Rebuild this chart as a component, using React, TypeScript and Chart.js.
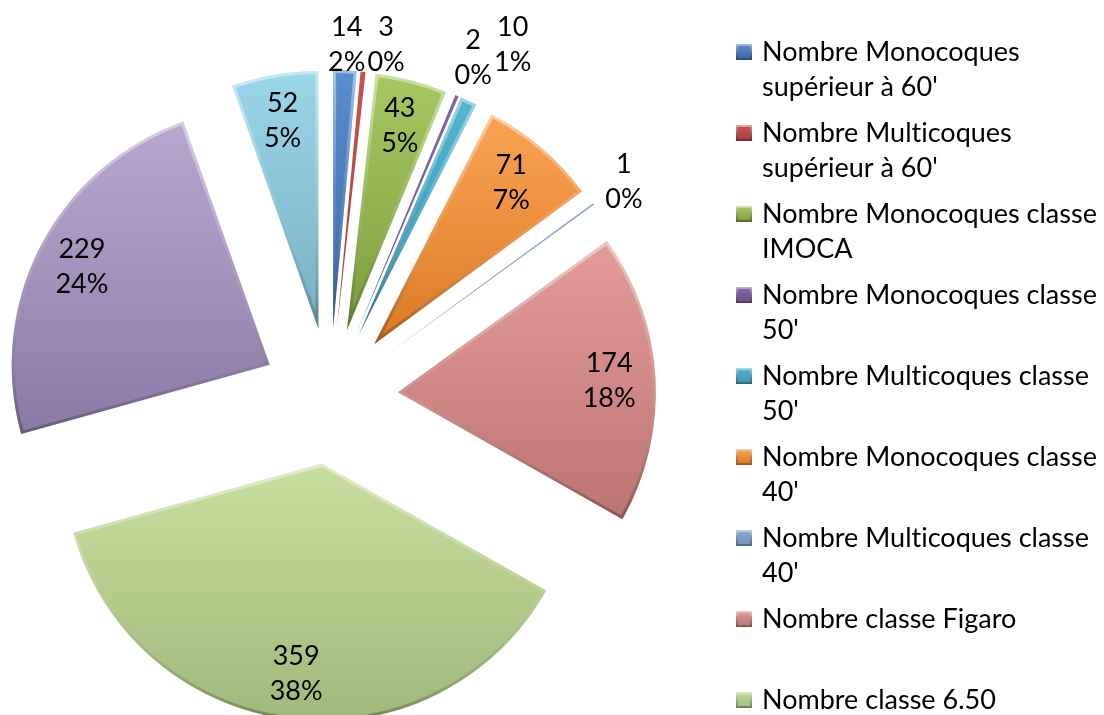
import React, { useEffect, useRef } from "react";
import { Chart, registerables } from "chart.js";

Chart.register(...registerables);

// ---- Data ----
const categories = [
  "Nombre Monocoques supérieur à 60'",
  "Nombre Multicoques supérieur à 60'",
  "Nombre Monocoques classe IMOCA",
  "Nombre Monocoques classe 50'",
  "Nombre Multicoques classe 50'",
  "Nombre Monocoques classe 40'",
  "Nombre Multicoques classe 40'",
  "Nombre classe Figaro",
  "Nombre classe 6.50",
  "Nombre classe Mini",
  "Nombre autres classes",
];
const values = [14, 3, 43, 2, 10, 71, 1, 174, 359, 229, 52];
const percentLabels = ["2%", "0%", "5%", "0%", "1%", "7%", "0%", "18%", "38%", "24%", "5%"];
const legendVisibleCount = 9;

// ---- Styles ----
const topColors = [
  "#5A8ED0", "#C9524F", "#A6C962", "#8466A8", "#52B4D0", "#FAA453",
  "#8FA9D2", "#E39C9A", "#C8DE9E", "#B8A8D0", "#9AD6EA",
];
const bottomColors = [
  "#3967A4", "#A33F3C", "#7E9D3E", "#6A5190", "#3A95AE", "#DB7A26",
  "#7290BE", "#BC7573", "#A0B97A", "#8C7AA6", "#78B0C2",
];
const FONT_FAMILY = "Lato, 'Open Sans', sans-serif";
const FONT_SIZE = 27;
const LINE_H = 35;
const W = 1104;
const H = 715;
const CX = 330;
const CY = 396;
const RADIUS = 258;
const EXPLODE = 68;

function slicePath(ctx: CanvasRenderingContext2D, cx: number, cy: number, r: number, a0: number, a1: number) {
  ctx.beginPath();
  ctx.moveTo(cx, cy);
  ctx.arc(cx, cy, r, a0, a1);
  ctx.closePath();
}

function drawSlice(ctx: CanvasRenderingContext2D, cx: number, cy: number, r: number, a0: number, a1: number, top: string, bottom: string) {
  let minY = cy;
  let maxY = cy;
  const steps = 48;
  for (let k = 0; k <= steps; k++) {
    const a = a0 + ((a1 - a0) * k) / steps;
    const py = cy + r * Math.sin(a);
    minY = Math.min(minY, py);
    maxY = Math.max(maxY, py);
  }
  if (maxY - minY < 2) maxY = minY + 2;
  const g = ctx.createLinearGradient(0, minY, 0, maxY);
  g.addColorStop(0, top);
  g.addColorStop(1, bottom);
  ctx.save();
  slicePath(ctx, cx, cy, r, a0, a1);
  ctx.fillStyle = g;
  ctx.fill();
  const arcLen = r * (a1 - a0);
  if (arcLen > 15) {
    ctx.clip();
    const bevel = ctx.createLinearGradient(0, minY, 0, maxY);
    bevel.addColorStop(0, "rgba(255,255,255,0.45)");
    bevel.addColorStop(0.45, "rgba(255,255,255,0.1)");
    bevel.addColorStop(1, "rgba(0,0,0,0.28)");
    ctx.lineWidth = 6;
    ctx.lineJoin = "round";
    ctx.strokeStyle = bevel;
    slicePath(ctx, cx, cy, r, a0, a1);
    ctx.stroke();
  }
  ctx.restore();
}

function drawBox(ctx: CanvasRenderingContext2D, x: number, y: number, s: number, top: string, bottom: string) {
  const g = ctx.createLinearGradient(0, y, 0, y + s);
  g.addColorStop(0, top);
  g.addColorStop(1, bottom);
  ctx.save();
  ctx.fillStyle = g;
  ctx.fillRect(x, y, s, s);
  ctx.beginPath();
  ctx.rect(x, y, s, s);
  ctx.clip();
  ctx.lineWidth = 4;
  const b = ctx.createLinearGradient(0, y, 0, y + s);
  b.addColorStop(0, "rgba(255,255,255,0.5)");
  b.addColorStop(1, "rgba(0,0,0,0.3)");
  ctx.strokeStyle = b;
  ctx.strokeRect(x, y, s, s);
  ctx.restore();
}

function wrapText(ctx: CanvasRenderingContext2D, text: string, maxW: number): string[] {
  const words = text.split(" ");
  const lines: string[] = [];
  let cur = "";
  for (const w of words) {
    const test = cur ? cur + " " + w : w;
    if (ctx.measureText(test).width > maxW && cur) {
      lines.push(cur);
      cur = w;
    } else {
      cur = test;
    }
  }
  if (cur) lines.push(cur);
  return lines;
}

const explodedPiePlugin = {
  id: "explodedPie",
  beforeDatasetDraw(chart: any, args: any) {
    const ctx: CanvasRenderingContext2D = chart.ctx;
    args.meta.data.forEach((arc: any, i: number) => {
      const p = arc.getProps(["x", "y", "startAngle", "endAngle", "outerRadius"], true);
      const mid = (p.startAngle + p.endAngle) / 2;
      const cx = p.x + Math.cos(mid) * EXPLODE;
      const cy = p.y + Math.sin(mid) * EXPLODE;
      drawSlice(ctx, cx, cy, p.outerRadius, p.startAngle, p.endAngle, topColors[i], bottomColors[i]);
    });
    return false;
  },
  afterDraw(chart: any) {
    const ctx: any = chart.ctx;
    const meta = chart.getDatasetMeta(0);
    const data: number[] = chart.data.datasets[0].data;
    const total = data.reduce((a, b) => a + b, 0);
    ctx.save();
    ctx.font = `${FONT_SIZE}px ${FONT_FAMILY}`;
    if ("textRendering" in ctx) ctx.textRendering = "optimizeSpeed";
    ctx.fillStyle = "#000";
    ctx.textBaseline = "middle";
    ctx.textAlign = "center";

    const placed: { x0: number; x1: number; y0: number; y1: number }[] = [];
    meta.data.forEach((arc: any, i: number) => {
      const p = arc.getProps(["x", "y", "startAngle", "endAngle", "outerRadius"], true);
      const mid = (p.startAngle + p.endAngle) / 2;
      const dx = Math.cos(mid);
      const dy = Math.sin(mid);
      const ecx = p.x + dx * EXPLODE;
      const ecy = p.y + dy * EXPLODE;
      const lines = [String(data[i]), percentLabels[i]];
      const w = Math.max(...lines.map((l) => ctx.measureText(l).width));
      const h = LINE_H * 2;
      let lx = 0;
      let ly = 0;
      if (data[i] / total >= 0.03) {
        const d = p.outerRadius * 0.82;
        lx = ecx + dx * d;
        ly = ecy + dy * d;
      } else {
        const ext = Math.abs(dx) * (w / 2) + Math.abs(dy) * (h / 2) + 2;
        let d = p.outerRadius + ext;
        const place = () => {
          lx = ecx + dx * d;
          ly = Math.max(ecy + dy * d, 10 + h / 2);
        };
        place();
        const overlaps = () =>
          placed.some((b) => lx - w / 2 < b.x1 + 2 && lx + w / 2 > b.x0 - 2 && ly - h / 2 < b.y1 && ly + h / 2 > b.y0);
        let guard = 0;
        while (overlaps() && guard < 400) {
          d += 1;
          place();
          guard++;
        }
        placed.push({ x0: lx - w / 2, x1: lx + w / 2, y0: ly - h / 2, y1: ly + h / 2 });
      }
      ctx.fillText(lines[0], lx, ly - LINE_H / 2);
      ctx.fillText(lines[1], lx, ly + LINE_H / 2);
    });

    // Legend (Excel style, wrapped entries, truncated)
    const labels: string[] = chart.data.labels;
    ctx.textAlign = "left";
    const boxX = 736;
    const textX = 762;
    const firstY = 52;
    const slot = 81;
    const boxS = 16;
    for (let i = 0; i < legendVisibleCount; i++) {
      const y = firstY + i * slot;
      drawBox(ctx, boxX, y - boxS / 2, boxS, topColors[i], bottomColors[i]);
      ctx.fillStyle = "#000";
      const lines = wrapText(ctx, labels[i], W - textX - 2);
      lines.forEach((l, k) => ctx.fillText(l, textX, y + k * LINE_H));
    }
    ctx.restore();
  },
};

export default function App() {
  const canvasRef = useRef<HTMLCanvasElement | null>(null);
  useEffect(() => {
    const canvas = canvasRef.current;
    if (!canvas) return;
    const chart = new Chart(canvas, {
      type: "pie",
      data: {
        labels: categories,
        datasets: [
          {
            data: values,
            backgroundColor: topColors,
            borderWidth: 0,
            radius: RADIUS,
          } as any,
        ],
      },
      options: {
        animation: false,
        responsive: false,
        maintainAspectRatio: false,
        events: [],
        layout: {
          padding: { left: 0, right: W - 2 * CX, top: 2 * CY - H, bottom: 0 },
        },
        plugins: {
          legend: { display: false },
          tooltip: { enabled: false },
        },
      },
      plugins: [explodedPiePlugin],
    });
    return () => chart.destroy();
  }, []);
  return (
    <div style={{ position: "fixed", left: 0, top: 0, width: W, height: H, background: "#fff" }}>
      <canvas ref={canvasRef} width={W} height={H} style={{ display: "block", width: W, height: H }} />
    </div>
  );
}
